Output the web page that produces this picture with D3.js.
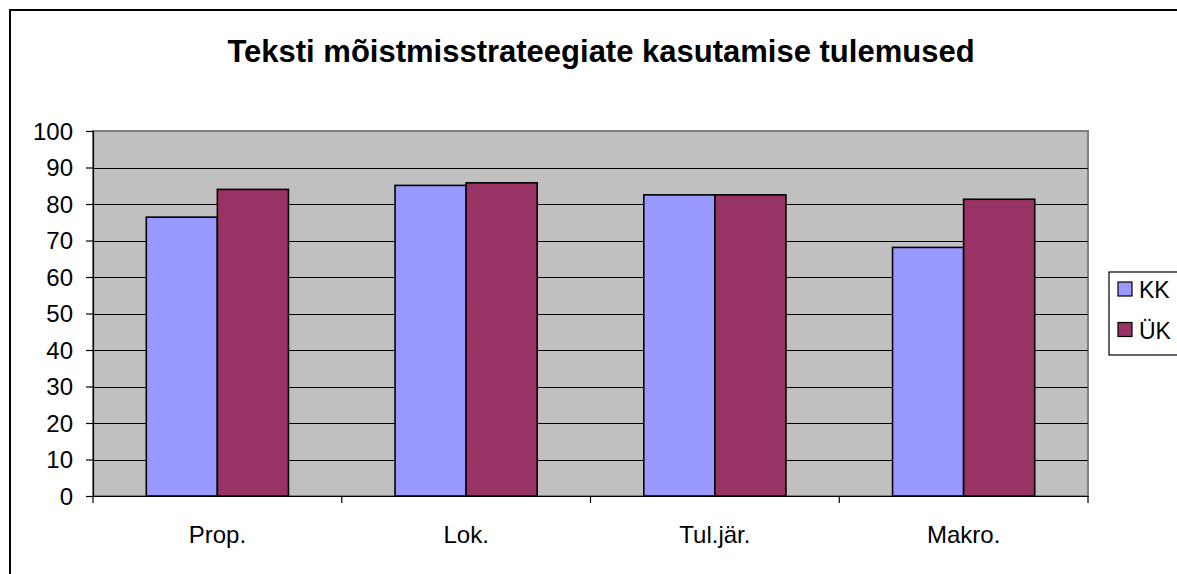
<!DOCTYPE html>
<html>
<head>
<meta charset="utf-8">
<script src="https://cdn.jsdelivr.net/npm/d3@7"></script>
<style>
html,body{margin:0;padding:0;background:#fff;}
svg{display:block;font-family:"Liberation Sans",Arial,sans-serif;}
</style>
</head>
<body>
<svg id="chart" width="1177" height="574"></svg>
<script>
const title = "Teksti mõistmisstrateegiate kasutamise tulemused";
const categories = ["Prop.", "Lok.", "Tul.jär.", "Makro."];
const seriesNames = ["KK", "ÜK"];
const kkValues = [76.4, 85.1, 82.5, 68.1];
const ukValues = [84.0, 85.8, 82.5, 81.3];
const yTicks = [0, 10, 20, 30, 40, 50, 60, 70, 80, 90, 100];
const colors = ["#9999FF", "#993366"];

const svg = d3.select("#chart");
const plot = {left: 93, top: 131, right: 1088, bottom: 496};

// outer frame
svg.append("rect").attr("x", 10).attr("y", 10).attr("width", 1200).attr("height", 600)
  .attr("fill", "#fff").attr("stroke", "#000").attr("stroke-width", 2);

// title
svg.append("text").attr("x", 601).attr("y", 62).attr("text-anchor", "middle")
  .attr("font-size", 31).attr("font-weight", "bold").attr("fill", "#000").text(title);

const x0 = d3.scaleBand().domain(categories).range([plot.left, plot.right]).paddingInner(0).paddingOuter(0);
const x1 = d3.scaleBand().domain(seriesNames).range([0, x0.bandwidth()]).paddingInner(0).paddingOuter(0.75);
const y = d3.scaleLinear().domain([0, 100]).range([plot.bottom, plot.top]);

// plot background
svg.append("rect").attr("x", plot.left).attr("y", plot.top)
  .attr("width", plot.right - plot.left).attr("height", plot.bottom - plot.top)
  .attr("fill", "#C0C0C0").attr("stroke", "#808080").attr("stroke-width", 2);

// gridlines
svg.append("g").selectAll("line").data(yTicks.filter(d => d > 0 && d < 100)).join("line")
  .attr("x1", plot.left).attr("x2", plot.right)
  .attr("y1", d => Math.round(y(d)) + 0.5).attr("y2", d => Math.round(y(d)) + 0.5)
  .attr("stroke", "#000").attr("stroke-width", 1.2);

// bars
const data = categories.map((c, i) => ({cat: c, vals: [kkValues[i], ukValues[i]]}));
const groups = svg.append("g").selectAll("g").data(data).join("g")
  .attr("transform", d => `translate(${x0(d.cat)},0)`);
groups.selectAll("rect").data(d => d.vals.map((v, j) => ({s: seriesNames[j], v, j}))).join("rect")
  .attr("x", d => x1(d.s)).attr("width", x1.bandwidth())
  .attr("y", d => y(d.v)).attr("height", d => y(0) - y(d.v))
  .attr("fill", d => colors[d.j]).attr("stroke", "#000").attr("stroke-width", 1.6);

// y axis
const yAxis = d3.axisLeft(y).tickValues(yTicks).tickSize(7).tickPadding(13);
const yg = svg.append("g").attr("transform", `translate(${plot.left},0)`).call(yAxis);
yg.select(".domain").attr("stroke", "#000").attr("stroke-width", 1.2);
yg.selectAll(".tick line").attr("stroke", "#000").attr("stroke-width", 1.2);
yg.selectAll(".tick text").attr("font-size", 24).attr("fill", "#000")
  .attr("font-family", "'Liberation Sans',Arial,sans-serif").attr("dy", "0.35em");

// x axis
const xAxis = d3.axisBottom(x0).tickSize(0).tickPadding(30);
const xg = svg.append("g").attr("transform", `translate(0,${plot.bottom})`).call(xAxis);
xg.select(".domain").attr("stroke", "#000").attr("stroke-width", 1.2);
xg.selectAll(".tick text").attr("font-size", 24).attr("fill", "#000")
  .attr("font-family", "'Liberation Sans',Arial,sans-serif");
// category boundary ticks
xg.append("g").selectAll("line").data(categories.concat(["__end"])).join("line")
  .attr("x1", (d, i) => i < categories.length ? x0(d) : plot.right)
  .attr("x2", (d, i) => i < categories.length ? x0(d) : plot.right)
  .attr("y1", 0).attr("y2", 7).attr("stroke", "#000").attr("stroke-width", 1.2);

// legend
const lg = svg.append("g").attr("transform", "translate(1109,272)");
lg.append("rect").attr("x", 0).attr("y", 0).attr("width", 100).attr("height", 83)
  .attr("fill", "#fff").attr("stroke", "#000").attr("stroke-width", 1.2);
const items = lg.selectAll("g.item").data(seriesNames).join("g").attr("class", "item")
  .attr("transform", (d, i) => `translate(9,${10 + i * 40.5})`);
items.append("rect").attr("width", 14).attr("height", 14)
  .attr("fill", (d, i) => colors[i]).attr("stroke", "#000").attr("stroke-width", 1.2);
items.append("text").attr("x", 21).attr("y", 16).attr("font-size", 23).attr("fill", "#000").text(d => d);
</script>
</body>
</html>
